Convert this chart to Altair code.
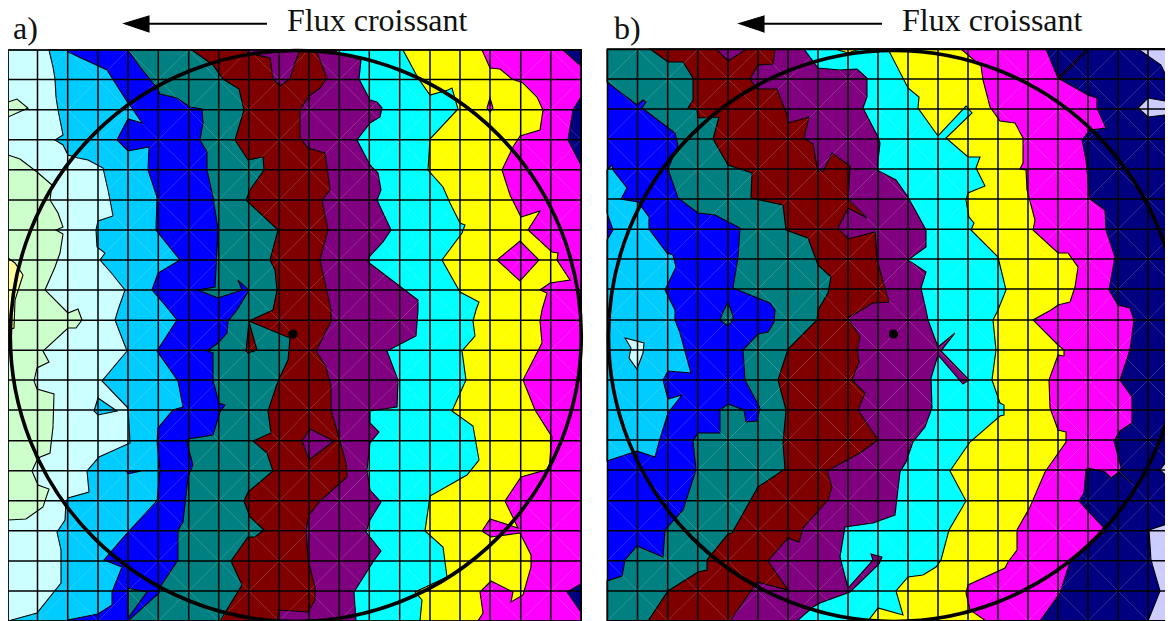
import altair as alt
import pandas as pd

BLACK = "#000000"
PALE_GREEN, PALE_CYAN, SKY, BLUE, TEAL, MAROON = "#CCFFCC", "#CCFFFF", "#00CCFF", "#0000FF", "#008080", "#800000"
PURPLE, CYAN, YELLOW, MAGENTA, NAVY, LAVENDER, PALE_YELLOW = "#800080", "#00FFFF", "#FFFF00", "#FF00FF", "#000080", "#CCCCFF", "#FFFF99"

A_GRID_X = [8, 37.5, 67.7, 98, 128, 158.3, 188.7, 218.7, 248.7, 279.3, 309, 339.3, 369.3, 399.7, 430, 460, 490, 520.7, 550.7, 581]
A_GRID_Y = [50, 79.5, 109.7, 139.7, 169.7, 200, 230, 260, 290, 320.3, 350.3, 380, 410, 440.7, 470.7, 500.7, 530.7, 561, 591, 621]
B_GRID_X = [607.5, 637.5, 667.7, 697.7, 728, 758, 788, 818, 848, 878, 908, 938, 968, 998, 1028, 1058, 1088, 1118, 1148, 1178]
B_GRID_Y = [49.5, 79, 109, 139, 169, 199, 229.3, 259, 289, 320, 350, 380, 410, 440, 470, 500.7, 530.7, 560.7, 591, 620.7]

# ---- panel a: contour band boundaries, top to bottom ----
A_PALEGREEN_TOP = [(8, 102), (17, 99), (28, 108), (8, 117)]
A_PALEGREEN = [(8, 155), (20, 159), (37, 172), (52, 185), (50, 200), (58, 213), (63, 227), (56, 230), (63, 234), (60, 253), (55, 267), (45, 290), (68, 313), (78, 309), (82, 320), (76, 328), (68, 328), (43, 351), (49, 362), (37, 368), (34, 381), (37, 389), (54, 394), (53, 427), (50, 453), (38, 458), (32, 471), (38, 485), (49, 489), (43, 507), (26, 519), (8, 520)]
A_PALEYELLOW = [(8, 258), (15, 263), (23, 275), (15, 300), (14, 328), (8, 330)]
A_SKY = [(49, 50), (53, 67), (55, 79), (56, 97), (58, 110), (63, 135), (55, 140), (63, 145), (68, 155), (78, 158), (88, 160), (103, 168), (108, 190), (110, 200), (113, 216), (98, 221), (96, 230), (97, 247), (105, 253), (100, 260), (113, 275), (125, 290), (118, 310), (115, 320), (127, 351), (102, 381), (128, 408), (130, 443), (99, 457), (87, 471), (89, 492), (68, 498), (66, 502), (65, 520), (57, 532), (61, 550), (61, 583), (37, 613), (8, 621)]
A_SKY_ISLAND = [(98, 398), (117, 411), (98, 415), (94, 411)]
A_BLUE = [(68, 50), (68, 52), (107, 70), (128, 103), (132, 108), (142, 123), (128, 119), (117, 140), (128, 151), (149, 147), (148, 170), (157, 197), (156, 230), (180, 260), (158, 273), (152, 290), (165, 305), (177, 320), (157, 351), (178, 381), (183, 407), (173, 410), (158, 428), (157, 442), (160, 470), (157, 501), (128, 532), (104, 560), (122, 567), (112, 592), (112, 605), (98, 614), (68, 620), (68, 621)]
A_BLUE_ISLAND = [(126, 471), (141, 471), (128, 474)]
A_TEAL = [(128, 50), (140, 67), (157, 88), (160, 94), (177, 98), (190, 107), (202, 109), (203, 123), (200, 140), (207, 152), (207, 170), (213, 197), (218, 230), (215, 287), (198, 290), (218, 298), (242, 290), (238, 280), (249, 290), (237, 310), (228, 321), (227, 333), (218, 343), (207, 351), (213, 353), (213, 381), (219, 403), (225, 405), (220, 412), (213, 435), (188, 439), (187, 443), (193, 465), (188, 477), (183, 522), (178, 530), (178, 560), (160, 587), (159, 593), (128, 621)]
A_TEAL_ISLAND = [(128, 588), (147, 592), (128, 618)]
A_MAROON = [(192, 50), (213, 65), (223, 79), (239, 89), (244, 110), (235, 140), (248, 160), (263, 157), (264, 170), (250, 190), (246, 200), (278, 230), (270, 260), (275, 270), (277, 290), (273, 310), (249, 321), (290, 338), (288, 360), (278, 381), (268, 411), (271, 433), (253, 441), (267, 453), (273, 471), (248, 492), (244, 501), (250, 517), (264, 530), (255, 537), (248, 537), (231, 561), (242, 585), (220, 621)]
A_MAROON_ISLAND = [(249, 322), (257, 350), (248, 353), (246, 351)]
A_PURPLE = [(245, 50), (248, 53), (270, 58), (273, 79), (280, 86), (290, 79), (295, 63), (300, 50), (316, 50), (327, 78), (320, 88), (309, 96), (300, 110), (300, 138), (308, 148), (325, 153), (330, 190), (322, 200), (328, 230), (320, 260), (331, 310), (331, 321), (316, 351), (326, 367), (331, 387), (331, 410), (340, 441), (346, 463), (347, 477), (320, 501), (309, 515), (306, 530), (308, 560), (315, 587), (315, 600), (308, 612), (279, 610), (277, 621)]
A_PURPLE_ISLAND = [(310, 429), (334, 441), (309, 460), (302, 441)]
A_CYAN = [(335, 50), (338, 53), (361, 60), (359, 79), (370, 100), (377, 102), (382, 108), (380, 117), (370, 123), (357, 140), (370, 165), (378, 173), (381, 190), (377, 200), (391, 230), (383, 242), (369, 257), (368, 262), (418, 300), (418, 310), (416, 336), (387, 351), (398, 380), (397, 407), (370, 411), (370, 423), (379, 432), (370, 443), (367, 470), (370, 490), (381, 502), (370, 520), (366, 532), (381, 551), (373, 562), (354, 592), (356, 621)]
A_YELLOW = [(403, 50), (418, 78), (430, 95), (448, 90), (452, 88), (458, 109), (430, 139), (428, 170), (443, 187), (450, 203), (460, 223), (465, 225), (462, 233), (442, 260), (460, 292), (479, 302), (476, 310), (473, 321), (475, 336), (462, 351), (466, 380), (452, 411), (473, 426), (479, 460), (467, 475), (430, 496), (425, 531), (443, 547), (447, 577), (415, 592), (422, 600), (420, 621)]
A_MAGENTA = [(482, 50), (490, 68), (500, 69), (512, 79), (523, 83), (537, 97), (543, 110), (540, 130), (520, 136), (513, 147), (502, 170), (510, 195), (521, 217), (540, 211), (528, 230), (552, 252), (558, 253), (557, 260), (570, 280), (550, 283), (540, 290), (547, 293), (542, 310), (540, 321), (542, 343), (523, 380), (535, 410), (552, 437), (549, 469), (521, 477), (505, 501), (518, 528), (490, 519), (482, 531), (491, 537), (520, 533), (531, 555), (531, 567), (523, 595), (511, 602), (513, 592), (491, 581), (480, 592), (483, 613), (478, 621)]
A_MAGENTA_DIAMOND = [(520, 241), (539, 260), (520, 281), (497, 260)]
A_MAGENTA_SPOT = [(490, 98), (493, 108), (490, 112), (487, 108)]
A_NAVY_TOP = [(563, 50), (581, 66), (581, 50)]
A_NAVY_MID = [(581, 97), (573, 110), (568, 140), (581, 165)]
A_NAVY_LOW = [(581, 584), (567, 592), (581, 612)]

# ---- panel b ----
B_SKY = [(607, 170), (612, 165), (613, 170), (627, 188), (621, 199), (638, 202), (649, 217), (649, 229), (667, 253), (673, 255), (676, 267), (665, 290), (675, 310), (675, 320), (680, 333), (691, 373), (668, 371), (663, 380), (668, 399), (682, 395), (668, 413), (660, 439), (655, 457), (637, 451), (607, 461), (607, 240), (613, 230), (607, 213)]
B_PALE_ISLAND = [(625, 338), (644, 343), (643, 353), (637, 369), (629, 358), (631, 348)]
B_TEAL = [(607, 82), (637, 105), (643, 100), (646, 102), (642, 108), (675, 133), (678, 145), (668, 169), (678, 198), (698, 213), (715, 215), (740, 228), (738, 257), (733, 288), (770, 303), (775, 310), (774, 322), (768, 332), (758, 334), (743, 350), (745, 380), (760, 408), (757, 421), (746, 422), (744, 410), (728, 404), (720, 410), (720, 433), (698, 433), (693, 441), (696, 470), (683, 510), (665, 530), (663, 557), (637, 546), (625, 560), (622, 576), (607, 581), (607, 621), (1182, 621), (1182, 49), (607, 49)]
B_TEAL_ISLAND = [(728, 302), (733, 316), (733, 320), (728, 326), (720, 320), (723, 312)]
B_MAROON = [(650, 49), (668, 62), (683, 62), (693, 78), (693, 100), (688, 108), (697, 110), (698, 118), (719, 117), (713, 139), (728, 165), (752, 173), (751, 198), (783, 205), (786, 230), (808, 238), (818, 265), (831, 277), (828, 293), (818, 310), (817, 320), (788, 349), (778, 380), (786, 410), (783, 443), (785, 469), (758, 487), (732, 533), (728, 534), (707, 560), (707, 570), (698, 572), (668, 591), (648, 621)]
B_PURPLE = [(716, 49), (728, 61), (747, 49), (775, 49), (773, 64), (758, 65), (750, 79), (757, 89), (777, 89), (787, 115), (788, 123), (809, 117), (804, 138), (813, 144), (817, 168), (823, 172), (832, 153), (850, 166), (848, 199), (867, 218), (848, 208), (838, 228), (848, 239), (875, 232), (877, 260), (889, 302), (873, 303), (848, 318), (860, 337), (857, 350), (859, 362), (852, 380), (865, 393), (858, 410), (878, 440), (860, 453), (827, 471), (832, 487), (828, 500), (803, 528), (799, 542), (788, 538), (768, 561), (788, 590), (757, 582), (730, 621)]
B_CYAN = [(804, 49), (818, 68), (840, 70), (857, 69), (867, 78), (867, 97), (863, 108), (878, 137), (880, 143), (877, 170), (896, 180), (908, 197), (926, 230), (926, 247), (908, 260), (926, 272), (921, 288), (926, 310), (928, 320), (938, 347), (955, 333), (941, 351), (969, 380), (963, 384), (938, 355), (931, 378), (932, 408), (925, 427), (913, 442), (906, 462), (900, 472), (895, 515), (873, 523), (845, 527), (840, 557), (848, 588), (873, 560), (871, 554), (882, 557), (879, 564), (850, 592), (820, 603), (813, 607), (797, 621)]
B_YELLOW_TOP = [(835, 49), (848, 53), (860, 49)]
B_YELLOW = [(888, 49), (908, 88), (919, 97), (918, 108), (938, 136), (966, 106), (972, 113), (946, 138), (968, 157), (980, 157), (976, 168), (985, 186), (968, 193), (966, 200), (969, 217), (974, 223), (971, 230), (998, 257), (1006, 290), (998, 310), (993, 320), (996, 350), (992, 380), (1000, 403), (1004, 405), (1004, 415), (1000, 416), (970, 442), (950, 471), (966, 501), (949, 530), (941, 560), (936, 567), (923, 575), (908, 577), (896, 591), (903, 615), (878, 608), (868, 621)]
B_MAGENTA = [(961, 49), (981, 66), (983, 80), (990, 107), (1000, 121), (1015, 123), (1023, 138), (1023, 163), (1020, 169), (1026, 170), (1027, 190), (1035, 220), (1033, 230), (1058, 253), (1068, 253), (1078, 267), (1075, 287), (1070, 302), (1058, 305), (1051, 310), (1033, 320), (1058, 345), (1064, 350), (1064, 356), (1058, 355), (1049, 380), (1050, 408), (1058, 430), (1066, 432), (1066, 442), (1045, 472), (1030, 507), (1017, 530), (1017, 550), (1008, 562), (1005, 568), (968, 585), (966, 593), (970, 610), (986, 621)]
B_NAVY = [(1046, 49), (1058, 78), (1088, 95), (1097, 98), (1097, 108), (1106, 128), (1090, 130), (1082, 140), (1086, 160), (1090, 199), (1105, 210), (1106, 230), (1115, 257), (1109, 290), (1118, 305), (1130, 308), (1134, 320), (1130, 350), (1120, 380), (1132, 397), (1132, 423), (1120, 431), (1114, 441), (1120, 463), (1121, 468), (1119, 472), (1132, 483), (1119, 472), (1111, 478), (1105, 472), (1088, 468), (1086, 470), (1084, 493), (1079, 501), (1103, 527), (1105, 532), (1088, 545), (1070, 562), (1060, 593), (1040, 621)]
B_PINK_LINE = [(1058, 78), (1086, 50), (1087, 51), (1059, 79)]
B_LAV_TOP = [(1138, 49), (1161, 65), (1168, 80), (1171, 102), (1148, 98), (1138, 108), (1148, 117), (1173, 114), (1167, 138), (1173, 150), (1182, 150), (1182, 49)]
B_LAV_MID = [(1182, 445), (1173, 453), (1160, 470), (1173, 482), (1182, 490)]
B_LAV_LOW = [(1182, 520), (1173, 522), (1149, 530), (1151, 560), (1160, 591), (1148, 621), (1182, 621)]

A_ARROW_HEAD = [(124, 23.5), (149, 16), (149, 32)]
B_ARROW_HEAD = [(739, 23.5), (764, 16), (764, 32)]

ARROWS = [(149, 267, 23.7), (764, 882, 23.7)]
CIRCLE_CENTERS = [(295.8, 336), (894, 336)]
DOTS = [(293, 334), (893.5, 334)]
LABELS = [("a)", 13, 39), ("b)", 614, 39), ("Flux croissant", 287, 31), ("Flux croissant", 902, 31)]

A_R, B_R, A_T, B_T, BOT = 581, 1182, 50, 49, 621


def box(x0, x1, y0, y1):
    return [(x0, y0), (x1, y0), (x1, y1), (x0, y1)]


A_SHAPES = [
    (box(8, A_R, A_T, BOT), PALE_CYAN, None),
    (A_PALEGREEN_TOP, PALE_GREEN, None), (A_PALEGREEN, PALE_GREEN, None), (A_PALEYELLOW, PALE_YELLOW, None),
    (A_SKY, SKY, A_R), (A_SKY_ISLAND, SKY, None), (A_BLUE, BLUE, A_R), (A_BLUE_ISLAND, BLUE, None),
    (A_TEAL, TEAL, A_R), (A_TEAL_ISLAND, TEAL, None), (A_MAROON, MAROON, A_R), (A_MAROON_ISLAND, MAROON, None),
    (A_PURPLE, PURPLE, A_R), (A_PURPLE_ISLAND, PURPLE, None), (A_CYAN, CYAN, A_R), (A_YELLOW, YELLOW, A_R),
    (A_MAGENTA, MAGENTA, A_R), (A_MAGENTA_DIAMOND, MAGENTA, None), (A_MAGENTA_SPOT, MAGENTA, None),
    (A_NAVY_TOP, NAVY, None), (A_NAVY_MID, NAVY, None), (A_NAVY_LOW, NAVY, None),
]
B_SHAPES = [
    (box(607.5, B_R, B_T, BOT), BLUE, None),
    (B_SKY, SKY, None), (B_PALE_ISLAND, PALE_CYAN, None),
    (B_TEAL, TEAL, None), (B_TEAL_ISLAND, TEAL, None), (B_MAROON, MAROON, B_R), (B_PURPLE, PURPLE, B_R),
    (B_CYAN, CYAN, B_R), (B_YELLOW_TOP, YELLOW, None), (B_YELLOW, YELLOW, B_R), (B_MAGENTA, MAGENTA, B_R),
    (B_NAVY, NAVY, B_R), (B_PINK_LINE, MAGENTA, None), (B_LAV_TOP, LAVENDER, None), (B_LAV_MID, LAVENDER, None), (B_LAV_LOW, LAVENDER, None),
]

X = alt.X("x:Q", axis=None, scale=alt.Scale(domain=[8, 1173], nice=False, zero=False))
Y = alt.Y("y:Q", axis=None, scale=alt.Scale(domain=[621, 8], nice=False, zero=False))

layers = []


def polygon(points, colour, right=None, top=None, stroke=BLACK, width=1.1):
    pts = list(points)
    if right is not None:
        pts = pts + [(right, BOT), (right, top)]
    df = pd.DataFrame(pts, columns=["x", "y"]).reset_index()
    return alt.Chart(df).mark_line(
        fill=colour, stroke=stroke, strokeWidth=width, interpolate="linear-closed", clip=True
    ).encode(x=X, y=Y, order="index:Q")


for pts, col, right in A_SHAPES:
    layers.append(polygon(pts, col, right, A_T))
for pts, col, right in B_SHAPES:
    layers.append(polygon(pts, col, right, B_T))

# faint mesh diagonals, alternating so that they cross at every other node
diag = []
for gx, gy, parity in ((A_GRID_X, A_GRID_Y, 0), (B_GRID_X, B_GRID_Y, 1)):
    for i in range(19):
        for j in range(19):
            if (i + j) % 2 == parity:
                diag.append(dict(x=gx[i], x2=gx[i + 1], y=gy[j], y2=gy[j + 1]))
            else:
                diag.append(dict(x=gx[i], x2=gx[i + 1], y=gy[j + 1], y2=gy[j]))
layers.append(alt.Chart(pd.DataFrame(diag)).mark_rule(color="#FFFFFF", opacity=0.25, strokeWidth=0.7, clip=True).encode(x=X, y=Y, x2="x2:Q", y2="y2:Q"))

# grid
rows = []
for gx, gy in ((A_GRID_X, A_GRID_Y), (B_GRID_X, B_GRID_Y)):
    rows += [dict(x=v, x2=v, y=gy[0], y2=gy[-1]) for v in gx]
    rows += [dict(x=gx[0], x2=gx[-1], y=v, y2=v) for v in gy]
layers.append(alt.Chart(pd.DataFrame(rows)).mark_rule(color=BLACK, strokeWidth=1.5, clip=True).encode(x=X, y=Y, x2="x2:Q", y2="y2:Q"))

# measuring circle and centre dot
layers.append(alt.Chart(pd.DataFrame(CIRCLE_CENTERS, columns=["x", "y"])).mark_point(
    filled=False, stroke=BLACK, strokeWidth=3.6, opacity=1, size=571 ** 2, clip=True).encode(x=X, y=Y))
layers.append(alt.Chart(pd.DataFrame(DOTS, columns=["x", "y"])).mark_point(
    filled=True, color=BLACK, opacity=1, size=85).encode(x=X, y=Y))

# arrows and texts
layers.append(alt.Chart(pd.DataFrame(ARROWS, columns=["x", "x2", "y"])).mark_rule(color=BLACK, strokeWidth=2).encode(x=X, x2="x2:Q", y=Y))
layers.append(polygon(A_ARROW_HEAD, BLACK))
layers.append(polygon(B_ARROW_HEAD, BLACK))
layers.append(alt.Chart(pd.DataFrame(LABELS, columns=["t", "x", "y"])).mark_text(
    font="Liberation Serif", fontSize=32, align="left", baseline="alphabetic", color="#111111").encode(x=X, y=Y, text="t:N"))

chart = alt.layer(*layers).properties(
    width=1165, height=613, padding={"left": 0, "top": 0, "right": -8, "bottom": 0},
    autosize=alt.AutoSizeParams(type="none"), background="#FFFFFF"
).configure_view(stroke=None)

chart.save("out.html", embed_options={"renderer": "svg", "actions": False})
